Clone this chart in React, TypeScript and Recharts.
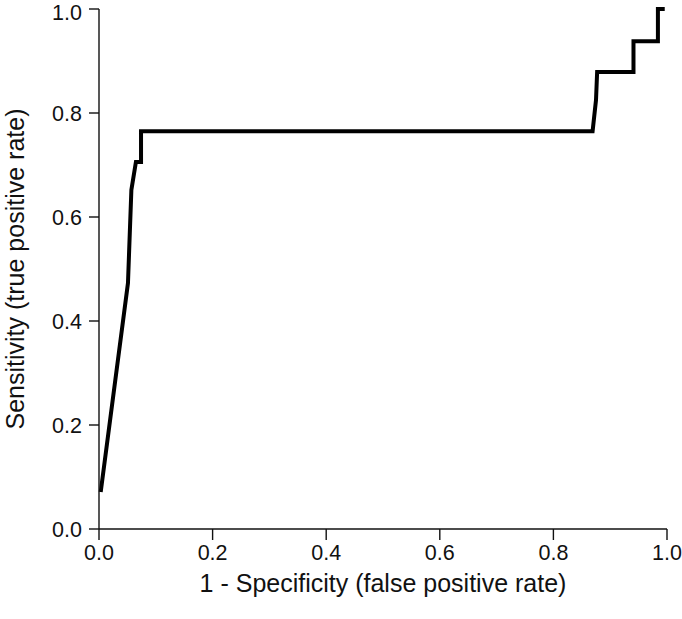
import React from 'react';
import { LineChart, Line, XAxis, YAxis, Label } from 'recharts';

const fpr = [0.003, 0.051, 0.057, 0.065, 0.074, 0.074, 0.869, 0.875, 0.877, 0.941, 0.941, 0.984, 0.984, 0.996];
const tpr = [0.071, 0.473, 0.652, 0.706, 0.706, 0.765, 0.765, 0.825, 0.879, 0.879, 0.938, 0.938, 1.0, 1.0];
const xTicks = [0, 0.2, 0.4, 0.6, 0.8, 1.0];
const yTicks = [0, 0.2, 0.4, 0.6, 0.8, 1.0];
const xTitle = '1 - Specificity (false positive rate)';
const yTitle = 'Sensitivity (true positive rate)';

const data = fpr.map((x, i) => ({ x, y: tpr[i] }));

const FONT = '"Liberation Sans", Arial, Helvetica, sans-serif';
const TICK_FS = 21.5;
const TITLE_FS = 25;
const tickStyle = { fontSize: TICK_FS, fill: '#111', fontFamily: FONT };

export default function App() {
  return (
    <div style={{ position: 'absolute', left: 0, top: 0, width: 682, height: 619, background: '#fff' }}>
      <LineChart
        width={682}
        height={619}
        data={data}
        margin={{ top: 9, right: 15, bottom: 0, left: 0 }}
      >
        <XAxis
          dataKey="x"
          type="number"
          domain={[0, 1]}
          ticks={xTicks}
          tickFormatter={(v: number) => v.toFixed(1)}
          height={90}
          tickSize={11}
          tickMargin={5}
          tick={tickStyle}
          axisLine={{ stroke: '#111', strokeWidth: 1.4 }}
          tickLine={{ stroke: '#111', strokeWidth: 1.4 }}
        >
          <Label
            value={xTitle}
            position="insideBottom"
            offset={27}
            style={{ fontSize: TITLE_FS, fill: '#111', fontFamily: FONT }}
          />
        </XAxis>
        <YAxis
          type="number"
          domain={[0, 1]}
          ticks={yTicks}
          tickFormatter={(v: number) => v.toFixed(1)}
          width={99}
          tickSize={10}
          tickMargin={7}
          tick={tickStyle}
          axisLine={{ stroke: '#111', strokeWidth: 1.4 }}
          tickLine={{ stroke: '#111', strokeWidth: 1.4 }}
        >
          <Label
            value={yTitle}
            angle={-90}
            position="insideLeft"
            offset={15}
            style={{ fontSize: TITLE_FS, fill: '#111', fontFamily: FONT, textAnchor: 'middle' }}
          />
        </YAxis>
        <Line
          type="linear"
          dataKey="y"
          stroke="#000"
          strokeWidth={4}
          dot={false}
          strokeLinejoin="miter"
          strokeLinecap="butt"
          isAnimationActive={false}
        />
      </LineChart>
    </div>
  );
}
